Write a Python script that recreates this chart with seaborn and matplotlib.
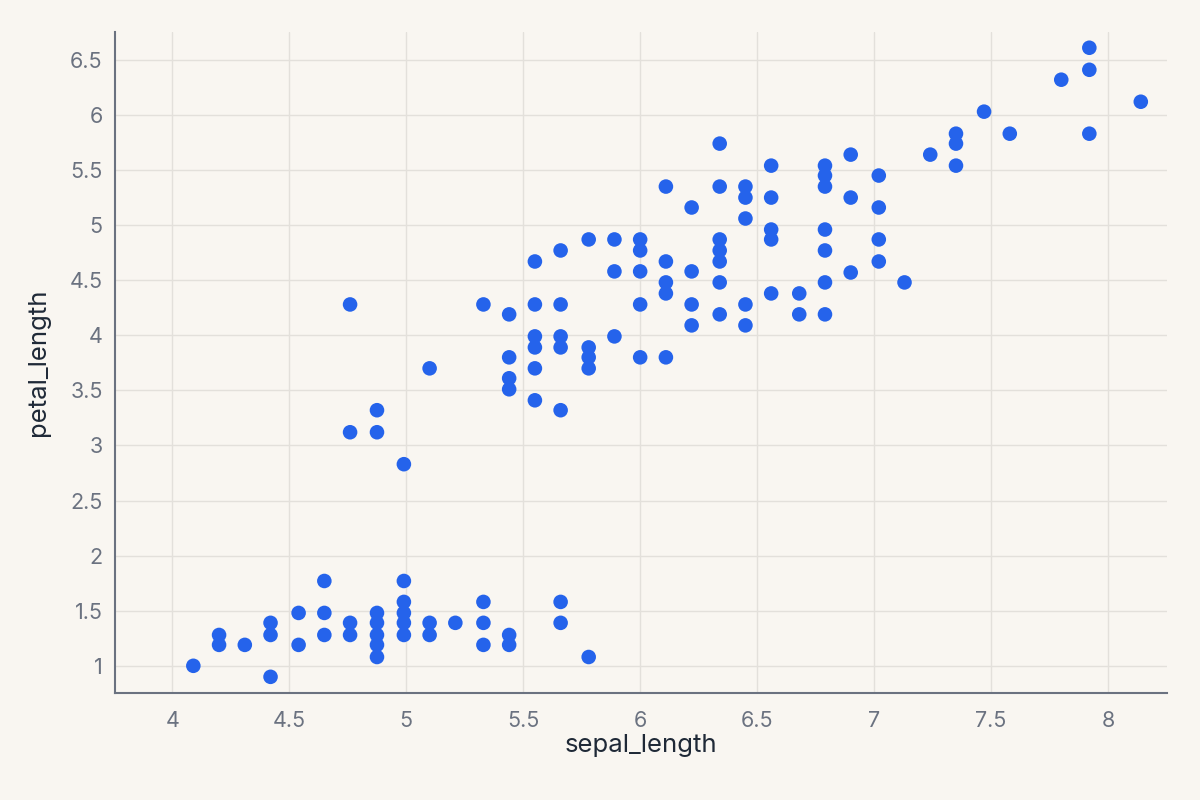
"""
Scatter plot of sepal_length vs petal_length (iris-like data),
blue dots on a warm off-white background.
Saves to out.png (1200x800).
"""

import pandas as pd
import matplotlib.pyplot as plt
import seaborn as sns

# values, column by column (x, then its y values)
sepal_length = [
    4.09,
    4.20, 4.20,
    4.31,
    4.42, 4.42, 4.42,
    4.54, 4.54,
    4.65, 4.65, 4.65,
    4.76, 4.76, 4.76, 4.76,
    4.875, 4.875, 4.875, 4.875, 4.875, 4.875, 4.875,
    4.99, 4.99, 4.99, 4.99, 4.99, 4.99,
    5.10, 5.10, 5.10,
    5.21,
    5.33, 5.33, 5.33, 5.33,
    5.44, 5.44, 5.44, 5.44, 5.44, 5.44,
    5.55, 5.55, 5.55, 5.55, 5.55, 5.55,
    5.66, 5.66, 5.66, 5.66, 5.66, 5.66, 5.66,
    5.78, 5.78, 5.78, 5.78, 5.78,
    5.89, 5.89, 5.89,
    6.00, 6.00, 6.00, 6.00, 6.00,
    6.11, 6.11, 6.11, 6.11, 6.11,
    6.22, 6.22, 6.22, 6.22,
    6.34, 6.34, 6.34, 6.34, 6.34, 6.34, 6.34,
    6.45, 6.45, 6.45, 6.45, 6.45,
    6.56, 6.56, 6.56, 6.56, 6.56,
    6.68, 6.68,
    6.79, 6.79, 6.79, 6.79, 6.79, 6.79, 6.79,
    6.90, 6.90, 6.90,
    7.02, 7.02, 7.02, 7.02,
    7.13,
    7.24,
    7.35, 7.35, 7.35,
    7.47,
    7.58,
    7.80,
    7.92, 7.92, 7.92,
    8.14,
]
petal_length = [
    1.00,
    1.28, 1.19,
    1.19,
    1.39, 1.28, 0.90,
    1.48, 1.19,
    1.77, 1.48, 1.28,
    4.28, 3.12, 1.39, 1.28,
    3.32, 3.12, 1.48, 1.39, 1.28, 1.19, 1.08,
    2.83, 1.77, 1.58, 1.48, 1.39, 1.28,
    3.70, 1.39, 1.28,
    1.39,
    4.28, 1.58, 1.39, 1.19,
    4.19, 3.80, 3.61, 3.51, 1.28, 1.19,
    4.67, 4.28, 3.99, 3.89, 3.70, 3.41,
    4.77, 4.28, 3.99, 3.89, 3.32, 1.58, 1.39,
    4.87, 3.89, 3.80, 3.70, 1.08,
    4.87, 4.58, 3.99,
    4.87, 4.77, 4.58, 4.28, 3.80,
    5.35, 4.67, 4.48, 4.38, 3.80,
    5.16, 4.58, 4.28, 4.09,
    5.74, 5.35, 4.87, 4.77, 4.67, 4.48, 4.19,
    5.35, 5.25, 5.06, 4.28, 4.09,
    5.54, 5.25, 4.96, 4.87, 4.38,
    4.38, 4.19,
    5.54, 5.45, 5.35, 4.96, 4.77, 4.48, 4.19,
    5.64, 5.25, 4.57,
    5.45, 5.16, 4.87, 4.67,
    4.48,
    5.64,
    5.83, 5.74, 5.54,
    6.03,
    5.83,
    6.32,
    6.61, 6.41, 5.83,
    6.12,
]

x_ticks = [4, 4.5, 5, 5.5, 6, 6.5, 7, 7.5, 8]
x_tick_labels = ["4", "4.5", "5", "5.5", "6", "6.5", "7", "7.5", "8"]
y_ticks = [1, 1.5, 2, 2.5, 3, 3.5, 4, 4.5, 5, 5.5, 6, 6.5]
y_tick_labels = ["1", "1.5", "2", "2.5", "3", "3.5", "4", "4.5", "5", "5.5", "6", "6.5"]

df = pd.DataFrame({"sepal_length": sepal_length, "petal_length": petal_length})

bg = "#F9F6F1"
axis_col = "#6B7280"
grid_col = "#E3E0DB"

sns.set_style("white")
plt.rcParams['font.family'] = ['Inter', 'DejaVu Sans']

fig = plt.figure(figsize=(12, 8), dpi=100, facecolor=bg)
ax = fig.add_axes([0.096, 0.134, 0.8765, 0.826])
ax.set_facecolor(bg)

sns.scatterplot(data=df, x="sepal_length", y="petal_length",
                color="#2563EB", s=110, edgecolor="none", zorder=3, ax=ax)

ax.set_xlim(3.756, 8.252)
ax.set_ylim(0.755, 6.753)
ax.set_xticks(x_ticks)
ax.set_xticklabels(x_tick_labels)
ax.set_yticks(y_ticks)
ax.set_yticklabels(y_tick_labels)

ax.grid(True, color=grid_col, linewidth=1, zorder=0)
ax.set_axisbelow(True)

for side in ["top", "right"]:
    ax.spines[side].set_visible(False)
for side in ["left", "bottom"]:
    ax.spines[side].set_color(axis_col)
    ax.spines[side].set_linewidth(1.5)

ax.tick_params(axis="both", colors=axis_col, labelsize=15.5,
               length=6, width=1.2, direction="out")
ax.tick_params(axis="x", pad=7)
ax.tick_params(axis="y", pad=3)

ax.set_xlabel("sepal_length", fontsize=18.5, color="#1F2937", labelpad=2)
ax.set_ylabel("petal_length", fontsize=18.5, color="#1F2937", labelpad=14)

plt.savefig("out.png", dpi=100, facecolor=bg)
plt.close()
